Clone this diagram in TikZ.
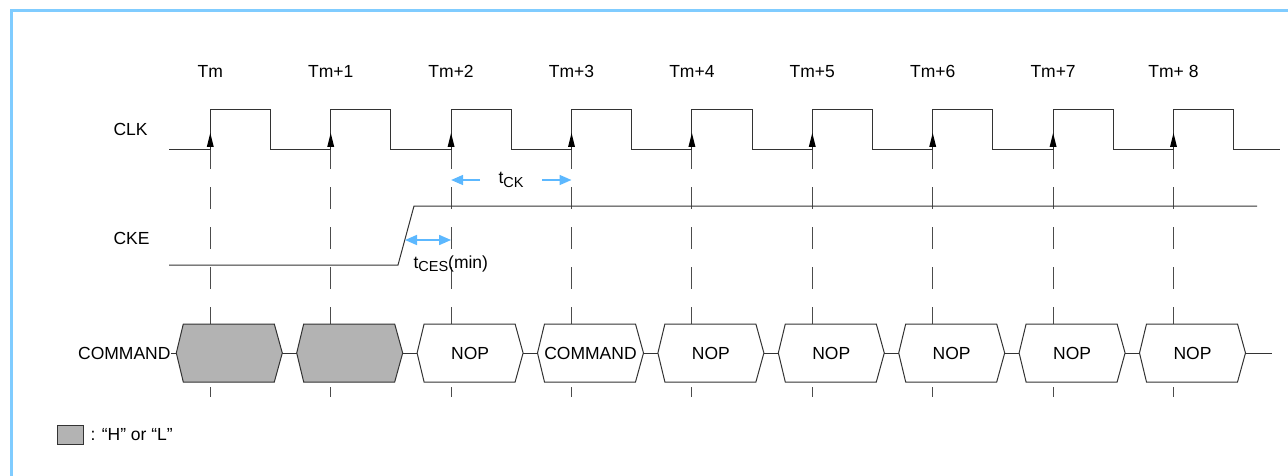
\documentclass[tikz,border=0pt]{standalone}
\usepackage{fontspec}
\setmainfont{Liberation Sans}
\usetikzlibrary{arrows.meta}
\definecolor{frameblue}{HTML}{80CCFF}
\definecolor{tblue}{HTML}{5CB8FF}
\definecolor{busgray}{HTML}{B3B3B3}
\newcommand{\tsub}[2]{#1\raisebox{-0.35ex}{\fontsize{14.5}{14.5}\selectfont #2}}
\begin{document}
\begin{tikzpicture}[x=1pt,y=-1pt, line width=1pt,
    every node/.style={font=\fontsize{17.5}{20}\selectfont, inner sep=0pt},
    wave/.style={draw=black!80, line width=1pt},
    guide/.style={draw=black!70, line width=1pt, dash pattern=on 22pt off 18pt, dash phase=3pt},
    busbox/.style={draw=black!80, line width=1pt},
    tarrow/.style={draw=tblue, line width=1.6pt, -{Triangle[length=12pt,width=10pt]}},
    tboth/.style={draw=tblue, line width=1.6pt, {Triangle[length=12pt,width=10pt]}-{Triangle[length=12pt,width=10pt]}}]
    \useasboundingbox (0,0) rectangle (1288,476);
    \clip (0,0) rectangle (1288,476);
    \draw[frameblue, line width=2.5pt] (11.5,10.5) rectangle (1320,520);

    % clock edges and guide lines
    \foreach \i in {0,...,8} {
        \pgfmathsetmacro\ex{210.3+120.4*\i}
        \coordinate (clk\i) at (\ex,150);
        \draw[guide] (clk\i) -- (\ex,397);
    }
    \foreach \i/\lab in {0/Tm,1/Tm+1,2/Tm+2,3/Tm+3,4/Tm+4,5/Tm+5,6/Tm+6,7/Tm+7,8/Tm+ 8}
        \node[anchor=base] (T\i) at ([yshift=72pt]clk\i) {\lab};

    \node[anchor=base west] (clklab) at (113,136) {CLK};
    \node[anchor=base west] (ckelab) at (113,244) {CKE};
    \node[anchor=base east] (cmdlab) at (171,359) {COMMAND};

    % CLK
    \draw[wave] (169,150) \foreach \i in {0,...,8} {
        -- (clk\i) -- ([yshift=40pt]clk\i) -- ([xshift=60.2pt,yshift=40pt]clk\i) -- ([xshift=60.2pt]clk\i)
    } -- (1280,150);
    \foreach \i in {0,...,8}
        \fill ([xshift=-3.5pt,yshift=3pt]clk\i) -- ([yshift=17pt]clk\i) -- ([xshift=3.5pt,yshift=3pt]clk\i) -- cycle;

    % CKE
    \coordinate (ckelo) at (398,265);
    \coordinate (ckehi) at (414,206);
    \draw[wave] (169,265) -- (ckelo) -- (ckehi) -- (1257,206);

    % timing labels
    \node (tck) at (511,180) {\tsub{t}{CK}};
    \draw[tarrow] ([xshift=-18pt]tck.west) -- (clk2 |- tck);
    \draw[tarrow] ([xshift=18pt]tck.east) -- (clk3 |- tck);
    \coordinate (cesL) at (405,240);
    \draw[tboth] (cesL) -- (clk2 |- cesL);
    \node[anchor=base west] (tces) at (413,268) {\tsub{t}{CES}(min)};

    % COMMAND bus
    \foreach \i/\txt/\col in {0//busgray,1//busgray,2/NOP/white,3/COMMAND/white,4/NOP/white,5/NOP/white,6/NOP/white,7/NOP/white,8/NOP/white} {
        \pgfmathsetmacro\hl{210.3+120.4*\i-34}
        \coordinate (hL\i) at (\hl,353);
        \coordinate (hR\i) at (\hl+106,353);
        \filldraw[busbox, fill=\col] (hL\i) -- (\hl+7,324) -- (\hl+98,324) -- (hR\i) -- (\hl+98,382) -- (\hl+7,382) -- cycle;
        \node[anchor=base] (cmd\i) at (\hl+53,359) {\txt};
    }
    \draw[wave] (cmdlab.east |- hL0) -- (hL0);
    \foreach \i [evaluate=\i as \j using int(\i+1)] in {0,...,7}
        \draw[wave] (hR\i) -- (hL\j);
    \draw[wave] (hR8) -- (1272,353);

    % legend
    \filldraw[busbox, fill=busgray] (57,425) rectangle (83,444);
    \node[anchor=base west] (legend) at (90,440) {: “H” or “L”};
\end{tikzpicture}
\end{document}
